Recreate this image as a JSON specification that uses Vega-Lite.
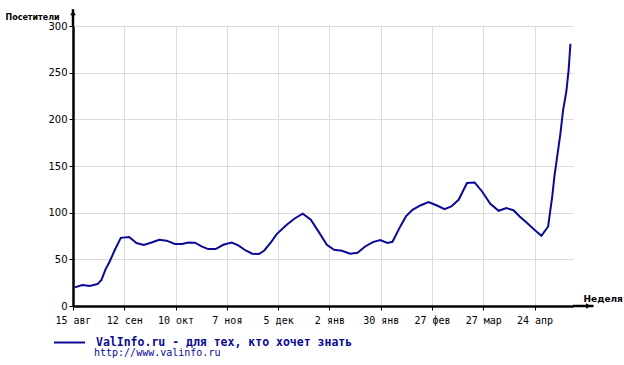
{
  "$schema": "https://vega.github.io/schema/vega-lite/v6.json",
  "width": 500,
  "height": 280,
  "autosize": "none",
  "padding": {"left": 73, "top": 26, "right": 51, "bottom": 59},
  "background": "white",
  "config": {
    "view": {"stroke": null},
    "axis": {"gridColor": "#dcdcdc", "gridWidth": 1, "domainColor": "black", "domainWidth": 2.5, "tickColor": "black", "tickWidth": 1, "labelColor": "black"}
  },
  "title": {
    "text": "http://www.valinfo.ru",
    "orient": "bottom",
    "anchor": "start",
    "frame": "group",
    "dx": 21,
    "offset": 0,
    "font": "DejaVu Sans Mono",
    "fontSize": 10,
    "fontWeight": "normal",
    "color": "#0a0a96"
  },
  "datasets": {
    "visits": [
      {"w": 0.13, "v": 20}, {"w": 0.73, "v": 22.5}, {"w": 1.30, "v": 21.4}, {"w": 1.91, "v": 23.5},
      {"w": 2.22, "v": 28}, {"w": 2.53, "v": 39}, {"w": 2.87, "v": 48}, {"w": 3.26, "v": 60},
      {"w": 3.73, "v": 73}, {"w": 4.38, "v": 74}, {"w": 4.95, "v": 67.5}, {"w": 5.52, "v": 65.3},
      {"w": 6.13, "v": 68}, {"w": 6.72, "v": 71}, {"w": 7.30, "v": 70}, {"w": 7.95, "v": 66.4},
      {"w": 8.52, "v": 66.4}, {"w": 8.98, "v": 68}, {"w": 9.51, "v": 67.8}, {"w": 10.03, "v": 63.8},
      {"w": 10.55, "v": 61}, {"w": 11.13, "v": 61}, {"w": 11.72, "v": 65.6}, {"w": 12.38, "v": 68},
      {"w": 12.89, "v": 65}, {"w": 13.47, "v": 59.5}, {"w": 13.98, "v": 56}, {"w": 14.51, "v": 55.7},
      {"w": 14.92, "v": 59.5}, {"w": 15.45, "v": 68.5}, {"w": 15.89, "v": 77}, {"w": 16.67, "v": 87},
      {"w": 17.32, "v": 94}, {"w": 17.92, "v": 99}, {"w": 18.55, "v": 92.4}, {"w": 19.14, "v": 80},
      {"w": 19.80, "v": 65.6}, {"w": 20.37, "v": 60.3}, {"w": 20.97, "v": 59.2}, {"w": 21.62, "v": 56},
      {"w": 22.19, "v": 57}, {"w": 22.79, "v": 63.8}, {"w": 23.39, "v": 68.5}, {"w": 23.96, "v": 70.7},
      {"w": 24.53, "v": 67.5}, {"w": 24.92, "v": 68.8}, {"w": 25.52, "v": 85}, {"w": 25.97, "v": 96},
      {"w": 26.48, "v": 103}, {"w": 27.09, "v": 107.7}, {"w": 27.73, "v": 111.3}, {"w": 28.39, "v": 107.7},
      {"w": 28.98, "v": 103.8}, {"w": 29.51, "v": 106.6}, {"w": 30.08, "v": 113.8}, {"w": 30.73, "v": 131.7},
      {"w": 31.33, "v": 132.3}, {"w": 31.91, "v": 122.7}, {"w": 32.55, "v": 109.5}, {"w": 33.20, "v": 102},
      {"w": 33.80, "v": 105}, {"w": 34.38, "v": 102.4}, {"w": 34.84, "v": 96}, {"w": 35.42, "v": 88.9},
      {"w": 35.99, "v": 81.7}, {"w": 36.54, "v": 75.3}, {"w": 37.06, "v": 85.2}, {"w": 37.38, "v": 117.3},
      {"w": 37.55, "v": 138.8}, {"w": 38.02, "v": 185}, {"w": 38.23, "v": 210}, {"w": 38.48, "v": 229.8},
      {"w": 38.66, "v": 253}, {"w": 38.80, "v": 281}
    ]
  },
  "layer": [
    {
      "data": {"name": "visits"},
      "mark": {"type": "line", "strokeWidth": 2, "interpolate": "linear"},
      "encoding": {
        "x": {
          "field": "w", "type": "quantitative",
          "scale": {"domain": [0, 39], "nice": false, "zero": false},
          "axis": {
            "values": [0, 4, 8, 12, 16, 20, 24, 28, 32, 36],
            "labelExpr": "['15 авг','12 сен','10 окт','7 ноя','5 дек','2 янв','30 янв','27 фев','27 мар','24 апр'][round(datum.value/4)]",
            "labelFont": "DejaVu Sans Mono", "labelFontSize": 10, "labelPadding": 5, "tickSize": 4,
            "labelFlush": false, "labelOverlap": false,
            "title": "Неделя", "titleFont": "DejaVu Sans", "titleFontSize": 9, "titleFontWeight": "bold",
            "titleAlign": "left", "titleBaseline": "middle", "titleX": 510, "titleY": -8, "titleColor": "black"
          }
        },
        "y": {
          "field": "v", "type": "quantitative",
          "scale": {"domain": [0, 300], "nice": false},
          "axis": {
            "values": [0, 50, 100, 150, 200, 250, 300],
            "labelFont": "DejaVu Sans", "labelFontSize": 10, "labelPadding": 2, "tickSize": 4,
            "title": "Посетители", "titleFont": "DejaVu Sans", "titleFontSize": 8, "titleFontWeight": "bold",
            "titleAngle": 0, "titleAlign": "left", "titleBaseline": "middle", "titleX": -68, "titleY": -9, "titleColor": "black"
          }
        },
        "color": {
          "datum": "ValInfo.ru - для тех, кто хочет знать",
          "scale": {"range": ["#0a0a96"]},
          "legend": {
            "orient": "none", "legendX": -20, "legendY": 300, "title": null, "padding": 0,
            "symbolType": "stroke", "symbolSize": 961, "symbolStrokeWidth": 2, "labelOffset": 10,
            "labelFont": "DejaVu Sans Mono", "labelFontSize": 11.5, "labelFontWeight": "bold",
            "labelColor": "#0a0a96", "labelLimit": 400
          }
        }
      }
    },
    {
      "data": {"values": [{}]},
      "mark": {"type": "rule", "color": "black", "strokeWidth": 2.5, "clip": false},
      "encoding": {"x": {"datum": 0, "type": "quantitative"}, "y": {"datum": 300, "type": "quantitative"}, "y2": {"datum": 318}}
    },
    {
      "data": {"values": [{}]},
      "mark": {"type": "rule", "color": "black", "strokeWidth": 2.5, "clip": false},
      "encoding": {"x": {"datum": 39, "type": "quantitative"}, "x2": {"datum": 40.6}, "y": {"datum": 0, "type": "quantitative"}}
    },
    {
      "data": {"values": [{}]},
      "mark": {"type": "point", "shape": "triangle-up", "filled": true, "color": "black", "size": 30, "opacity": 1, "clip": false},
      "encoding": {"x": {"datum": 0, "type": "quantitative"}, "y": {"datum": 314, "type": "quantitative"}}
    },
    {
      "data": {"values": [{}]},
      "mark": {"type": "point", "shape": "triangle-right", "filled": true, "color": "black", "size": 30, "opacity": 1, "clip": false},
      "encoding": {"x": {"datum": 40.2, "type": "quantitative"}, "y": {"datum": 0, "type": "quantitative"}}
    }
  ]
}
